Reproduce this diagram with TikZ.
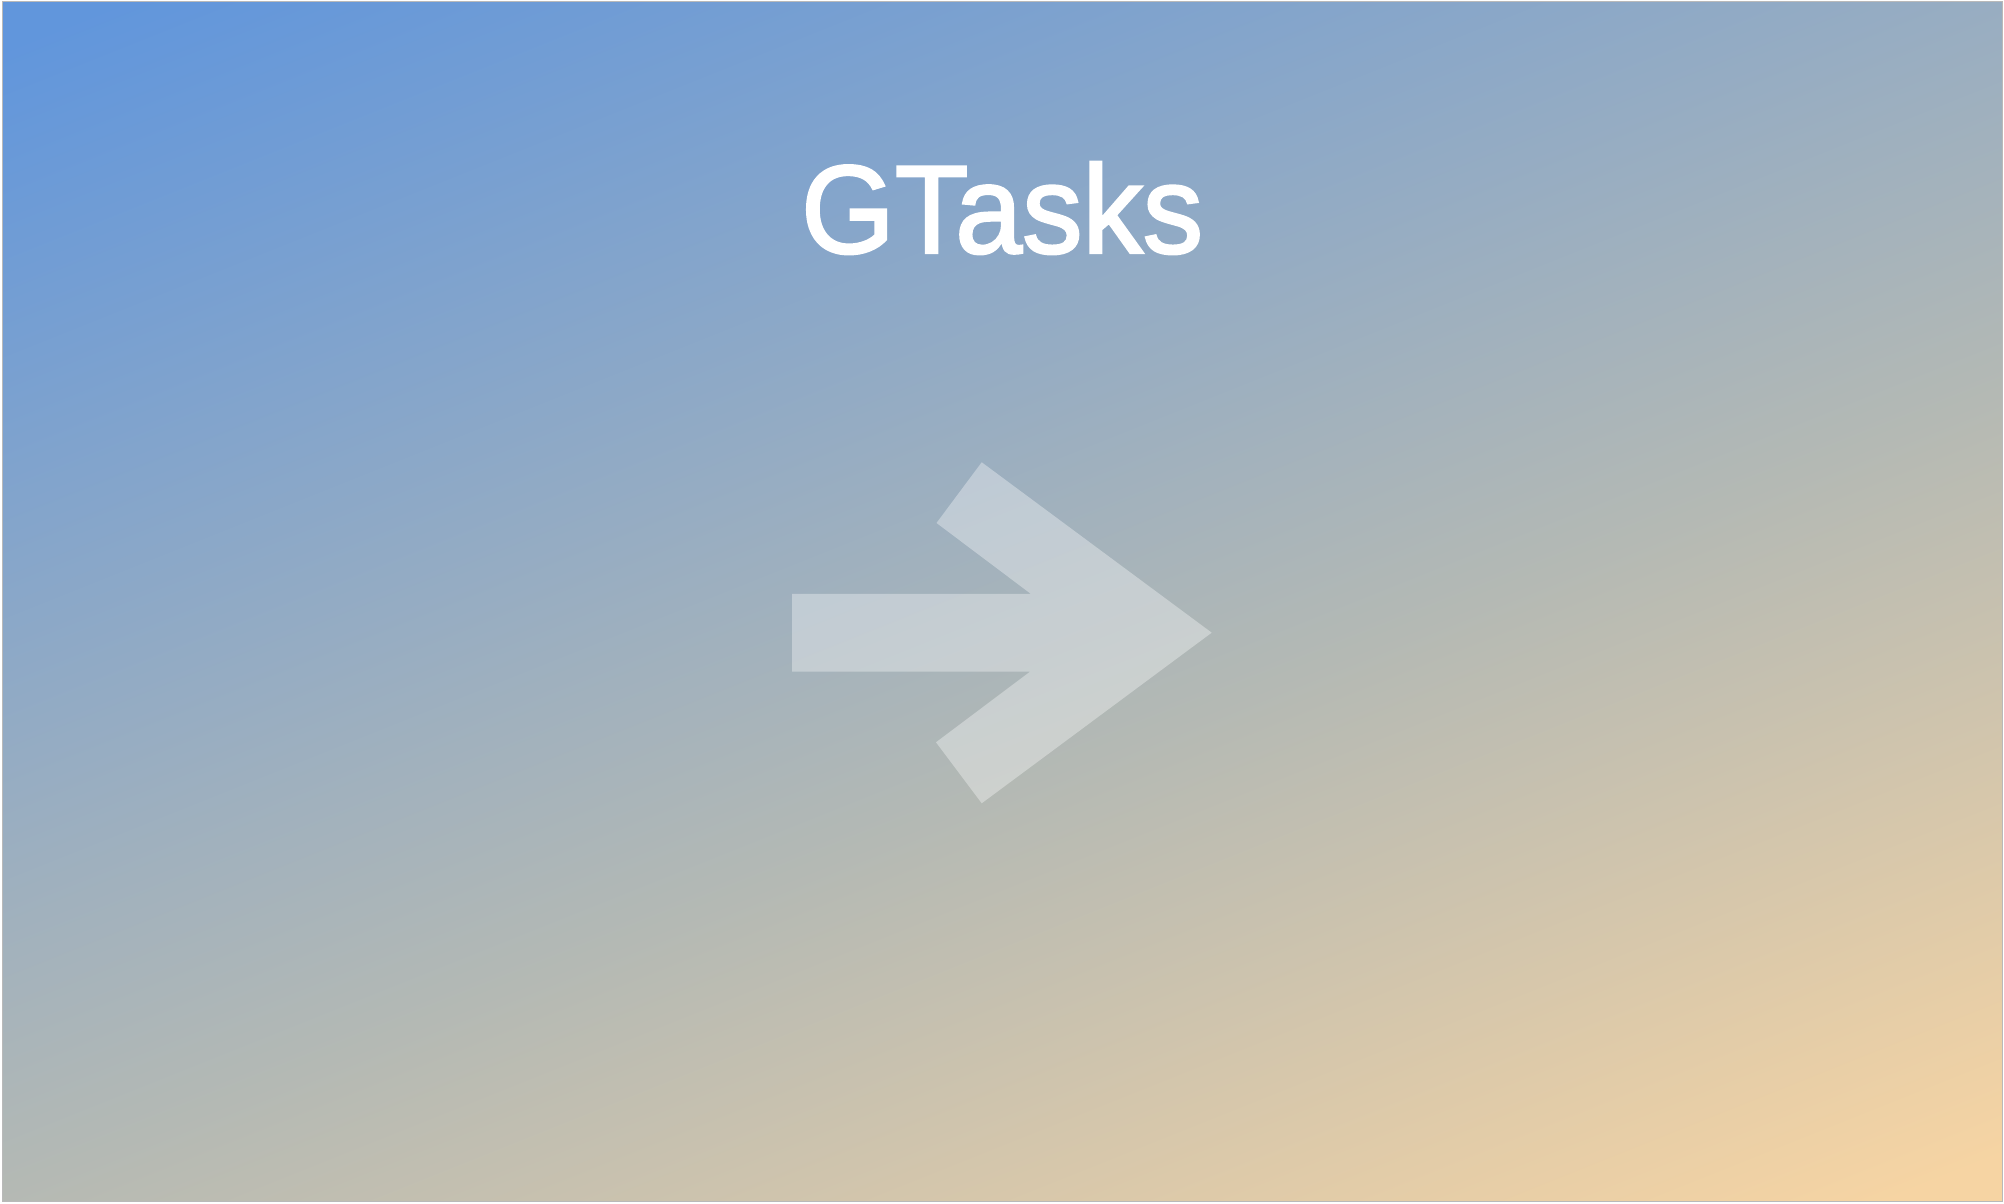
\documentclass[tikz,border=0pt]{standalone}
\usepackage{fontspec}
\setmainfont{Liberation Sans}
\newfontfamily\headfont[FakeBold=2]{Liberation Sans}
\usepackage{tikz}
\usetikzlibrary{calc}
\usetikzlibrary{positioning,backgrounds}
\definecolor{skyblue}{HTML}{6196DC}
\definecolor{midgrey}{HTML}{B4B9B4}
\definecolor{peach}{HTML}{F6D4A3}
\pgfdeclareverticalshading{bgfade}{100bp}{color(0bp)=(peach); color(38.9bp)=(peach); color(47.8bp)=(midgrey); color(61.1bp)=(skyblue); color(100bp)=(skyblue)}
\tikzset{frame/.style={draw=gray!55,line width=0.01cm},
         backdrop/.style={shading=bgfade,shading angle=21.8},
         title/.style={text=white,inner sep=0,anchor=base,font=\headfont\fontsize{35.7}{40}\selectfont},
         bigarrow/.style={fill=white,fill opacity=0.35,draw=none},
         x=0.01cm,y=0.01cm}

\begin{document}
\begin{tikzpicture}
\useasboundingbox (0,0) rectangle (2004,1204);
\fill[white] (0,0) rectangle (2004,1204);
\begin{scope}
\clip (2,2) rectangle (2002,1202);
\shade[backdrop] (-998,-1398) rectangle (3002,2602);
\end{scope}
\draw[frame] (2,2) rectangle (2002,1202);
\node[title] (heading) at (1002,951) {\scalebox{0.96}[1]{GTasks}};
% arrow
\coordinate (tail top) at (792,610);
\coordinate (tail bot) at (792,532.3);
\coordinate (tip) at (1211.7,571.3);
\fill[bigarrow] (tail top) -- (1031,610) -- (936.5,681) -- (981.7,741.7) -- (tip)
  -- (981.7,400.7) -- (936,461.7) -- (1030,532.3) -- (tail bot) -- cycle;
\end{tikzpicture}
\end{document}
